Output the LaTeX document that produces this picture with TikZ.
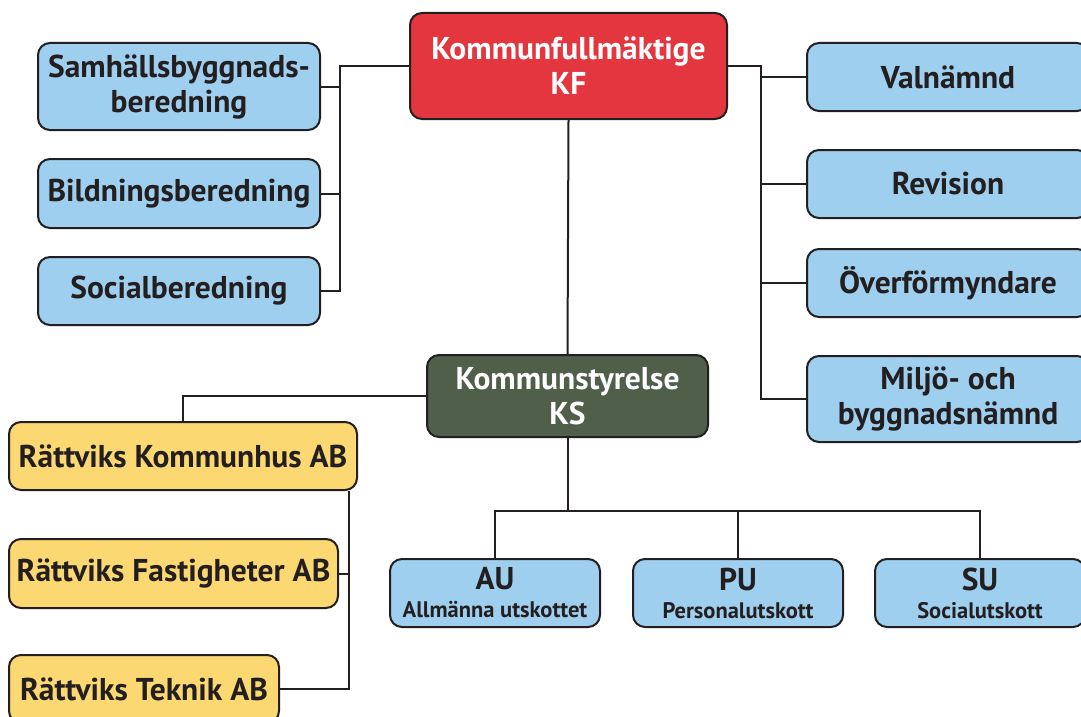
\documentclass[tikz,border=0pt]{standalone}
\usepackage{fontspec}
\setmainfont{PT Sans}
\usetikzlibrary{positioning}
\definecolor{kfred}{HTML}{E3363E}
\definecolor{ksgreen}{HTML}{4F5F4A}
\definecolor{boxblue}{HTML}{9FCFEE}
\definecolor{boxyellow}{HTML}{FCD872}
\definecolor{edge}{HTML}{231F20}
\tikzset{
  box/.style={draw=edge, line width=2pt, rounded corners=12pt, inner sep=0pt,
    align=center, text=edge, font=\fontsize{31.5}{35}\selectfont\bfseries},
  bluebox/.style={box, fill=boxblue},
  yellowbox/.style={box, fill=boxyellow},
  smallbox/.style={bluebox, minimum width=210pt, minimum height=68pt},
  conn/.style={draw=edge, line width=2pt},
}
\newcommand{\subl}[1]{\\[-7pt]{\fontsize{22.5}{24}\selectfont #1}}
\begin{document}
\begin{tikzpicture}[x=1pt,y=-1pt]
\useasboundingbox (0,0) rectangle (1081,717);
% left committees
\node[bluebox, minimum width=282pt, minimum height=87pt] (samh) at (179,86.5) {Samhällsbyggnads-\\beredning};
\node[bluebox, minimum width=282pt, minimum height=69pt] (bild) at (179,193.5) {Bildningsberedning};
\node[bluebox, minimum width=282pt, minimum height=68pt] (soc) at (179,291) {Socialberedning};
% KF
\node[box, fill=kfred, text=white, minimum width=317pt, minimum height=106pt] (kf) at (568.5,66) {Kommunfullmäktige\\KF};
% right boards
\node[bluebox, minimum width=282pt, minimum height=68pt] (val) at (948,77) {Valnämnd};
\node[bluebox, minimum width=282pt, minimum height=68pt] (rev) at (948,184) {Revision};
\node[bluebox, minimum width=282pt, minimum height=68pt] (ovf) at (948,283) {Överförmyndare};
\node[bluebox, minimum width=282pt, minimum height=86pt] (mil) at (948,399) {Miljö- och\\byggnadsnämnd};
% KS
\node[box, fill=ksgreen, text=white, minimum width=281pt, minimum height=82pt] (ks) at (567.5,396) {Kommunstyrelse\\KS};
% companies
\node[yellowbox, minimum width=348pt, minimum height=68pt] (khus) at (183,456) {Rättviks Kommunhus AB};
\node[yellowbox, minimum width=329pt, minimum height=69pt] (fast) at (173.5,573.5) {Rättviks Fastigheter AB};
\node[yellowbox, minimum width=270pt, minimum height=68pt] (tek) at (144,689) {Rättviks Teknik AB};
% sub-committees
\node[smallbox] (au) at (495,593) {AU\subl{Allmänna utskottet}};
\node[smallbox] (pu) at (738,593) {PU\subl{Personalutskott}};
\node[smallbox] (su) at (980,593) {SU\subl{Socialutskott}};
% connectors
\coordinate (L) at (340,0);
\coordinate (R) at (761,0);
\coordinate (Y) at (349,0);
\coordinate (B) at (0,511);
\draw[conn] (kf.west) -| (L |- soc.east) -- (soc.east);
\draw[conn] (samh.east) -- (L |- samh.east);
\draw[conn] (bild.east) -- (L |- bild.east);
\draw[conn] (kf.east) -| (R |- mil.west) -- (mil.west);
\draw[conn] (val.west) -- (R |- val.west);
\draw[conn] (rev.west) -- (R |- rev.west);
\draw[conn] (ovf.west) -- (R |- ovf.west);
\draw[conn] (kf.south) -- (ks.north);
\draw[conn] (ks.west) -| (khus.north);
\draw[conn] (Y |- khus.south) |- (tek.east);
\draw[conn] (fast.east) -- (Y |- fast.east);
\draw[conn] (ks.south) -- (ks.south |- B);
\draw[conn] (au.north) |- (B -| su.north) -- (su.north);
\draw[conn] (pu.north) -- (pu.north |- B);
\end{tikzpicture}
\end{document}
